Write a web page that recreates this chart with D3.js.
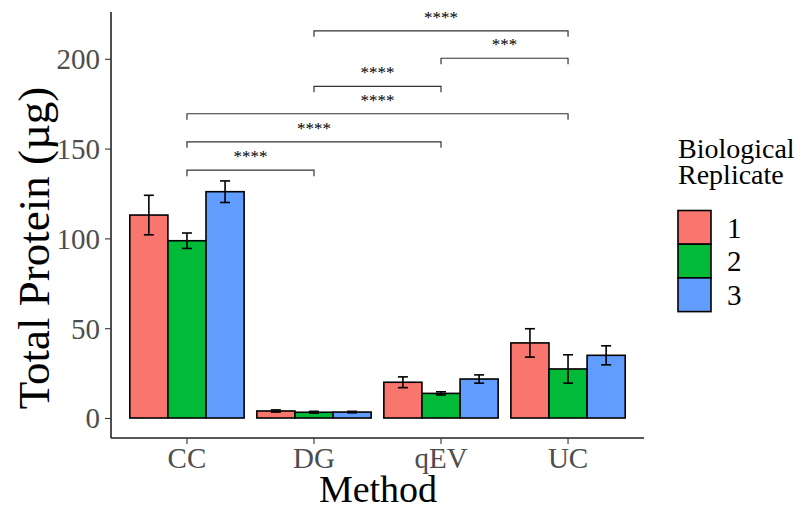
<!DOCTYPE html>
<html>
<head>
<meta charset="utf-8">
<script src="https://cdn.jsdelivr.net/npm/d3@7"></script>
<style>
  html, body { margin: 0; padding: 0; background: #fff; }
  svg { display: block; }
  text { font-family: "Liberation Serif", "DejaVu Serif", serif; }
</style>
</head>
<body>
<svg id="chart" width="805" height="510"></svg>
<script>
// ---- data ----
const categories = ["CC", "DG", "qEV", "UC"];
const replicates = ["1", "2", "3"];
const rep1Mean = [113.0, 3.9, 19.9, 41.8];
const rep1Err  = [11.0, 0.6, 3.0, 7.9];
const rep2Mean = [98.7, 3.2, 13.7, 27.3];
const rep2Err  = [4.3, 0.5, 0.9, 7.9];
const rep3Mean = [126.0, 3.3, 21.7, 34.9];
const rep3Err  = [6.0, 0.4, 2.3, 5.3];
const yTicks = [0, 50, 100, 150, 200];
const bracketFrom  = ["DG", "qEV", "DG", "CC", "CC", "CC"];
const bracketTo    = ["UC", "UC", "qEV", "UC", "qEV", "DG"];
const bracketY     = [215.6, 200.3, 184.7, 169.4, 153.8, 138.0];
const bracketLabel = ["****", "***", "****", "****", "****", "****"];
const legendTitle = ["Biological", "Replicate"];
const colors = ["#F8766D", "#00BA38", "#619CFF"];

const means = [rep1Mean, rep2Mean, rep3Mean];
const errs = [rep1Err, rep2Err, rep3Err];
const rows = [];
categories.forEach((c, i) => replicates.forEach((r, j) => {
  rows.push({cat: c, rep: r, mean: means[j][i], err: errs[j][i], color: colors[j]});
}));

// ---- layout ----
const svg = d3.select("#chart");
const pLeft = 111, pRight = 644, pTop = 12, pBottom = 438;

const x = d3.scaleBand().domain(categories).range([pLeft, pRight])
  .paddingInner(0.1).paddingOuter(0.148);
const xs = d3.scaleBand().domain(replicates).range([0, x.bandwidth()]).padding(0);
const y = d3.scaleLinear().domain([-11.14, 226.06]).range([pBottom, pTop]);

// bars
svg.append("g").selectAll("rect").data(rows).join("rect")
  .attr("x", d => x(d.cat) + xs(d.rep))
  .attr("y", d => y(d.mean))
  .attr("width", xs.bandwidth())
  .attr("height", d => y(0) - y(d.mean))
  .attr("fill", d => d.color)
  .attr("stroke", "#000")
  .attr("stroke-width", 1.6);

// error bars
const eb = svg.append("g").attr("stroke", "#000").attr("stroke-width", 1.6);
rows.forEach(d => {
  const cx = x(d.cat) + xs(d.rep) + xs.bandwidth() / 2;
  const hw = 5;
  eb.append("line").attr("x1", cx).attr("x2", cx).attr("y1", y(d.mean + d.err)).attr("y2", y(d.mean - d.err));
  eb.append("line").attr("x1", cx - hw).attr("x2", cx + hw).attr("y1", y(d.mean + d.err)).attr("y2", y(d.mean + d.err));
  eb.append("line").attr("x1", cx - hw).attr("x2", cx + hw).attr("y1", y(d.mean - d.err)).attr("y2", y(d.mean - d.err));
});

// significance brackets
const br = svg.append("g");
bracketY.forEach((v, i) => {
  const x1 = x(bracketFrom[i]) + x.bandwidth() / 2;
  const x2 = x(bracketTo[i]) + x.bandwidth() / 2;
  const yy = y(v);
  br.append("path")
    .attr("d", `M${x1},${yy + 6}V${yy}H${x2}V${yy + 6}`)
    .attr("fill", "none").attr("stroke", "#333").attr("stroke-width", 1.2);
  br.append("text").attr("x", (x1 + x2) / 2).attr("y", yy - 8)
    .attr("text-anchor", "middle").attr("font-size", 17).attr("fill", "#000")
    .text(bracketLabel[i]);
});

// y axis
const yAxis = svg.append("g").attr("transform", `translate(${pLeft},0)`)
  .call(d3.axisLeft(y).tickValues(yTicks).tickSize(6).tickPadding(5));
yAxis.select(".domain").attr("d", `M0,${pTop}V${pBottom}`).attr("stroke", "#222").attr("stroke-width", 1.6);
yAxis.selectAll(".tick line").attr("stroke", "#333").attr("stroke-width", 1.1);
yAxis.selectAll(".tick text").attr("font-size", 29).attr("fill", "#4D4D4D")
  .attr("font-family", "Liberation Serif").attr("dy", "0.34em");

// x axis
const xAxis = svg.append("g").attr("transform", `translate(0,${pBottom})`)
  .call(d3.axisBottom(x).tickSize(6).tickPadding(4));
xAxis.select(".domain").attr("d", `M${pLeft},0H${pRight}`).attr("stroke", "#222").attr("stroke-width", 1.6);
xAxis.selectAll(".tick line").attr("stroke", "#333").attr("stroke-width", 1.1);
xAxis.selectAll(".tick text").attr("font-size", 29).attr("fill", "#4D4D4D")
  .attr("font-family", "Liberation Serif").attr("dy", "0.68em");

// axis titles
svg.append("text").attr("x", 378).attr("y", 502).attr("text-anchor", "middle")
  .attr("font-size", 38).attr("fill", "#000").text("Method");
svg.append("text").attr("transform", "translate(49,248) rotate(-90)")
  .attr("text-anchor", "middle").attr("font-size", 45).attr("fill", "#000")
  .text("Total Protein (µg)");

// legend
const lg = svg.append("g");
const lt = lg.append("text").attr("x", 678).attr("y", 158).attr("font-size", 28).attr("fill", "#000");
legendTitle.forEach((t, i) => {
  lt.append("tspan").attr("x", 678).attr("y", 158 + i * 26).text(t);
});
replicates.forEach((r, j) => {
  const ky = 210.5 + j * 33.7;
  lg.append("rect").attr("x", 678).attr("y", ky).attr("width", 33).attr("height", 33.7)
    .attr("fill", colors[j]).attr("stroke", "#000").attr("stroke-width", 1.6);
  lg.append("text").attr("x", 727).attr("y", ky + 33.7 / 2).attr("dy", "0.35em")
    .attr("font-size", 29).attr("fill", "#000").text(r);
});
</script>
</body>
</html>
